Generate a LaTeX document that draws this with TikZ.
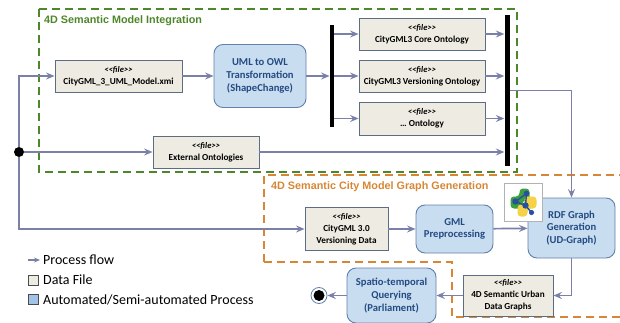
\documentclass[tikz,border=0pt]{standalone}
\usepackage{fontspec}
\setmainfont{Carlito}
\newfontfamily\titlefont{Liberation Sans}
\usetikzlibrary{arrows.meta,calc}
\definecolor{flowc}{RGB}{122,128,168}
\definecolor{filefill}{RGB}{238,236,226}
\definecolor{fileborder}{RGB}{92,108,132}
\definecolor{procfill}{RGB}{201,221,241}
\definecolor{procborder}{RGB}{98,128,170}
\definecolor{proctext}{RGB}{35,75,130}
\definecolor{grn}{RGB}{78,135,42}
\definecolor{org}{RGB}{214,134,52}
\definecolor{pyblue}{RGB}{40,80,160}
\definecolor{pygreen}{RGB}{60,160,60}
\definecolor{pyyellow}{RGB}{245,210,70}
\definecolor{legblue}{RGB}{160,195,230}
\tikzset{
  filebox/.style={draw=fileborder, fill=filefill, line width=0.9pt, align=center, inner sep=1pt,
    font=\fontsize{9.2}{12}\selectfont\bfseries},
  procbox/.style={draw=procborder, fill=procfill, line width=0.9pt, rounded corners=9pt, align=center,
    inner sep=1pt, text=proctext, font=\fontsize{10.6}{12.6}\selectfont\bfseries},
  barnode/.style={fill=black, draw=none, inner sep=0pt},
  flow/.style={draw=flowc, line width=1.7pt, -{Stealth[length=8.5pt,width=7pt,inset=3pt]}},
  groupbox/.style={line width=1.5pt, dash pattern=on 8pt off 5pt},
  legtext/.style={anchor=west, inner sep=0pt, font=\fontsize{14}{16}\selectfont},
  grouptitle/.style={anchor=west, inner sep=0pt, font=\titlefont\fontsize{10.8}{12}\selectfont\bfseries},
}
\newcommand{\fileline}{{\itshape\fontsize{8.6}{12}\selectfont <\kern0pt<file>\kern0pt>}\\}
\begin{document}
\begin{tikzpicture}[x=1pt,y=-1pt]
\useasboundingbox (0,0) rectangle (620,323);
\begin{scope}
\clip (0,0) rectangle (620,323);
% group boxes
\draw[groupbox, grn] (39,9) rectangle (517,172);
\node[grouptitle, text=grn] (gtitle) at (44,21) {4D Semantic Model Integration};
\draw[groupbox, org] (264,262) -- (264,175) -- (640,175);
\draw[groupbox, org] (264,262) -- (452,262) -- (452,317) -- (640,317);
\node[grouptitle, text=org] (otitle) at (271,187) {4D Semantic City Model Graph Generation};
\end{scope}

% nodes
\node[filebox, minimum width=127pt, minimum height=32pt] (xmi) at (118.5,76) {\fileline CityGML\_3\_UML\_Model.xmi};
\node[procbox, minimum width=92pt, minimum height=63pt] (uml) at (260,76) {UML to OWL\\Transformation\\(ShapeChange)};
\node[filebox, minimum width=106pt, minimum height=32pt] (ext) at (206,152) {\fileline External Ontologies};
\node[filebox, minimum width=126pt, minimum height=32pt] (core) at (422,34) {\fileline CityGML3 Core Ontology};
\node[filebox, minimum width=126pt, minimum height=32pt] (vers) at (422,76) {\fileline CityGML3 Versioning Ontology};
\node[filebox, minimum width=126pt, minimum height=33pt] (dots) at (422,118.5) {\fileline \dots\ Ontology};
\node[barnode, minimum width=4.5pt, minimum height=102pt] (bar1) at (332,76) {};
\node[barnode, minimum width=5pt, minimum height=151pt] (bar2) at (507,90.5) {};
\node[circle, fill=black, inner sep=0pt, minimum size=10pt] (start) at (19,152) {};

\node[filebox, minimum width=83pt, minimum height=43pt] (cgml) at (346.5,229) {\fileline CityGML 3.0\\Versioning Data};
\node[procbox, minimum width=77pt, minimum height=48pt] (gml) at (454.5,229) {GML\\Preprocessing};
\node[procbox, minimum width=87pt, minimum height=60pt] (rdf) at (571.5,228) {RDF Graph\\Generation\\(UD-Graph)};
\node[filebox, minimum width=90pt, minimum height=41pt] (udg) at (508,295.5) {\fileline 4D Semantic Urban\\Data Graphs};
\node[procbox, minimum width=89pt, minimum height=55pt] (spat) at (391.5,295.5) {Spatio-temporal\\Querying\\(Parliament)};
\node[circle, draw=procborder, fill=white, line width=0.8pt, inner sep=0pt, minimum size=16pt] (endo) at (319,295.5) {};
\node[circle, fill=black, inner sep=0pt, minimum size=11pt] (endi) at (endo) {};

% python icon
\node[draw=black!30, fill=white, line width=0.6pt, minimum width=38pt, minimum height=38pt, inner sep=0pt] (py) at (523.5,202.5) {};
\begin{scope}[shift={(py.center)}]
  \fill[pygreen, rounded corners=3.5pt] (-4,-14) -- (6,-14) -- (6,-2) -- (-1,-2) -- (-1,6) -- (-13,6) -- (-13,-6) -- (-4,-6) -- cycle;
  \fill[pyyellow, rounded corners=3.5pt] (4,14) -- (-6,14) -- (-6,2) -- (1,2) -- (1,-6) -- (13,-6) -- (13,6) -- (4,6) -- cycle;
  \draw[pyblue, line width=1.4pt] (-8,-1) -- (3,-9) -- (2,3) -- (-8,-1) (2,3) -- (8,10);
  \fill[pyblue] (-8,-1) circle (3.2pt) (3,-9) circle (2.8pt) (2,3) circle (3.2pt) (8,10) circle (2.6pt);
\end{scope}

% connectors
\draw[flow] (start) |- (xmi);
\draw[flow] (start) -- (ext);
\draw[flow] (start) |- (cgml);
\draw[flow] (xmi) -- (uml);
\draw[flow] (uml) -- (bar1);
\draw[flow] (bar1.east |- core) -- (core);
\draw[flow] (bar1.east |- vers) -- (vers);
\draw[flow] (bar1.east |- dots) -- (dots);
\draw[flow] (core) -- (core -| bar2.west);
\draw[flow] (vers) -- (vers -| bar2.west);
\draw[flow] (dots) -- (dots -| bar2.west);
\draw[flow] (ext) -- (ext -| bar2.west);
\draw[flow] (bar2.east) -| (rdf.north);
\draw[flow] (cgml) -- (gml);
\draw[flow] (gml) -- (rdf);
\draw[flow] (rdf.south) |- (udg.east);
\draw[flow] (udg) -- (spat);
\draw[flow] (spat) -- (endo);

% legend
\coordinate (lga) at (28,260);
\coordinate (lgb) at (40,260);
\draw[draw=flowc, line width=1.3pt, -{Stealth[length=6pt,width=5pt,inset=2pt]}] (lga) -- (lgb);
\node[legtext] (lt1) at (43,260) {Process flow};
\node[draw=black!70, fill=filefill, line width=0.7pt, minimum size=10pt, inner sep=0pt] (lsq1) at (33,280) {};
\node[legtext] (lt2) at (43,280) {Data File};
\node[draw=black!70, fill=legblue, line width=0.7pt, minimum size=10pt, inner sep=0pt] (lsq2) at (33,299.5) {};
\node[legtext] (lt3) at (43,299.5) {Automated/Semi-automated Process};
\end{tikzpicture}
\end{document}
